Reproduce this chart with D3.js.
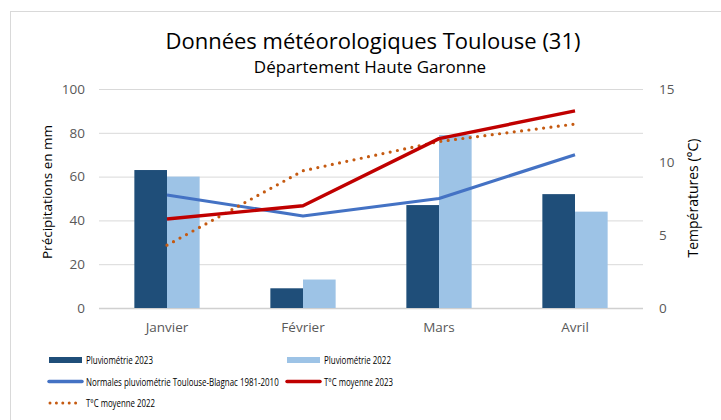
<!DOCTYPE html>
<html lang="fr">
<head>
  <meta charset="UTF-8">
  <title>Données météorologiques Toulouse</title>
  <script src="https://d3js.org/d3.v7.min.js"></script>
  <style>
    body { margin: 0; background: #fff; font-family: "Open Sans", "Liberation Sans", sans-serif; }
    .grid line { stroke: #d9d9d9; }
    .tick text { fill: #595959; }
  </style>
</head>
<body>
  <svg width="721" height="420"></svg>
  <script>
    const months = ['Janvier', 'Février', 'Mars', 'Avril'];
    const pluvio2023 = [63, 9, 47, 52];
    const pluvio2022 = [60, 13, 79, 44];
    const normales = [51.6, 42, 50, 70];
    const temp2023 = [6.1, 7.0, 11.6, 13.5];
    const temp2022 = [4.3, 9.4, 11.4, 12.6];
    const leftTicks = [0, 20, 40, 60, 80, 100];
    const rightTicks = [0, 5, 10, 15];

    const svg = d3.select('svg');
    const margin = { top: 89, right: 78, bottom: 112, left: 99 };
    const W = 721, H = 420;

    // chart frame
    svg.append('rect')
      .attr('x', 10.5).attr('y', 11.5)
      .attr('width', 720).attr('height', 420)
      .attr('fill', 'none').attr('stroke', '#d9d9d9');

    const x = d3.scaleBand()
      .domain(months)
      .range([margin.left, W - margin.right])
      .paddingInner(0.52)
      .paddingOuter(0.26);

    const yL = d3.scaleLinear().domain([0, 100]).range([H - margin.bottom, margin.top]);
    const yR = d3.scaleLinear().domain([0, 15]).range([H - margin.bottom, margin.top]);

    // gridlines
    svg.append('g')
      .attr('class', 'grid')
      .selectAll('line')
      .data(leftTicks)
      .join('line')
      .attr('x1', margin.left).attr('x2', W - margin.right)
      .attr('y1', d => yL(d) + 0.5).attr('y2', d => yL(d) + 0.5);

    // axes
    const leftAxis = svg.append('g')
      .attr('transform', `translate(${margin.left - 14},0)`)
      .call(d3.axisLeft(yL).tickValues(leftTicks).tickSize(0).tickPadding(0));
    const rightAxis = svg.append('g')
      .attr('transform', `translate(${W - margin.right + 16},0)`)
      .call(d3.axisRight(yR).tickValues(rightTicks).tickSize(0).tickPadding(0));
    const bottomAxis = svg.append('g')
      .attr('transform', `translate(0,${H - margin.bottom + 12})`)
      .call(d3.axisBottom(x).tickSize(0).tickPadding(0));
    [leftAxis, rightAxis, bottomAxis].forEach(a => {
      a.select('.domain').remove();
      a.selectAll('text').style('font-size', '13.5px').style('font-family', '"Open Sans", sans-serif');
    });
    bottomAxis.selectAll('text').attr('fill', '#404040').attr('dy', '0.9em');
    svg.append('line')
      .attr('x1', margin.left).attr('x2', W - margin.right)
      .attr('y1', yL(0) + 0.5).attr('y2', yL(0) + 0.5)
      .attr('stroke', '#d0d0d0').attr('stroke-width', 1.5);

    // bars
    const half = x.bandwidth() / 2;
    svg.append('g').selectAll('rect')
      .data(pluvio2023)
      .join('rect')
      .attr('x', (d, i) => x(months[i]))
      .attr('y', d => yL(d))
      .attr('width', half)
      .attr('height', d => yL(0) - yL(d))
      .attr('fill', '#1f4e79');
    svg.append('g').selectAll('rect')
      .data(pluvio2022)
      .join('rect')
      .attr('x', (d, i) => x(months[i]) + half)
      .attr('y', d => yL(d))
      .attr('width', half)
      .attr('height', d => yL(0) - yL(d))
      .attr('fill', '#9dc3e6');

    const cx = i => x(months[i]) + half;

    // lines
    const lineL = d3.line().x((d, i) => cx(i)).y(d => yL(d));
    const lineR = d3.line().x((d, i) => cx(i)).y(d => yR(d));

    svg.append('path').datum(normales)
      .attr('d', lineL).attr('fill', 'none')
      .attr('stroke', '#4472c4').attr('stroke-width', 3.2).attr('stroke-linejoin', 'round');
    svg.append('path').datum(temp2022)
      .attr('d', lineR).attr('fill', 'none')
      .attr('stroke', '#c55a11').attr('stroke-width', 3.2)
      .attr('stroke-dasharray', '0 7.4').attr('stroke-linecap', 'round');
    svg.append('path').datum(temp2023)
      .attr('d', lineR).attr('fill', 'none')
      .attr('stroke', '#c00000').attr('stroke-width', 3.4).attr('stroke-linejoin', 'round');

    // titles
    svg.append('text')
      .attr('x', 373).attr('y', 49)
      .attr('text-anchor', 'middle')
      .style('font-size', '22px')
      .attr('fill', '#000')
      .text('Données météorologiques Toulouse (31)');
    svg.append('text')
      .attr('x', 370).attr('y', 73)
      .attr('text-anchor', 'middle')
      .style('font-size', '17px')
      .attr('fill', '#000')
      .text('Département Haute Garonne');

    svg.append('text')
      .attr('transform', 'translate(52,192) rotate(-90)')
      .attr('text-anchor', 'middle')
      .style('font-size', '13.5px')
      .text('Précipitations en mm');
    svg.append('text')
      .attr('transform', 'translate(698,198) rotate(-90)')
      .attr('text-anchor', 'middle')
      .style('font-size', '14px')
      .text('Températures (°C)');

    // legend
    const legend = [
      { label: 'Pluviométrie 2023', type: 'bar', color: '#1f4e79', col: 0, row: 0, w: 67 },
      { label: 'Pluviométrie 2022', type: 'bar', color: '#9dc3e6', col: 1, row: 0, w: 67 },
      { label: 'Normales pluviométrie Toulouse-Blagnac 1981-2010', type: 'line', color: '#4472c4', col: 0, row: 1, w: 193 },
      { label: 'T°C moyenne 2023', type: 'line', color: '#c00000', col: 1, row: 1, w: 69 },
      { label: 'T°C moyenne 2022', type: 'dot', color: '#c55a11', col: 0, row: 2, w: 69 }
    ];
    const lg = svg.append('g').selectAll('g')
      .data(legend)
      .join('g')
      .attr('transform', d => `translate(${d.col ? 287 : 49},${360 + d.row * 21.5})`);
    lg.filter(d => d.type === 'bar').append('rect')
      .attr('x', 0).attr('y', -3).attr('width', 33).attr('height', 6)
      .attr('fill', d => d.color);
    lg.filter(d => d.type === 'line').append('line')
      .attr('x1', 0).attr('x2', 33).attr('y1', 0).attr('y2', 0)
      .attr('stroke', d => d.color).attr('stroke-width', 3.5).attr('stroke-linecap', 'round');
    lg.filter(d => d.type === 'dot').append('line')
      .attr('x1', 1).attr('x2', 33).attr('y1', 0).attr('y2', 0)
      .attr('stroke', d => d.color).attr('stroke-width', 3)
      .attr('stroke-dasharray', '0 6.4').attr('stroke-linecap', 'round');
    // condensed legend text: squeeze horizontally to the reference width
    lg.append('text')
      .attr('y', 0).attr('dy', '0.35em')
      .style('font-family', '"Open Sans", sans-serif')
      .style('font-size', '11.5px')
      .attr('fill', '#000')
      .text(d => d.label)
      .attr('transform', function (d) {
        const k = d.w / this.getComputedTextLength();
        return `translate(37,0) scale(${k},1)`;
      });
  </script>
</body>
</html>
